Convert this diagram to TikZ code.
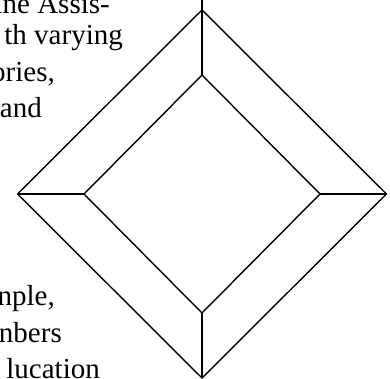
\documentclass[tikz,border=0pt]{standalone}
\usepackage{fontspec}
\setmainfont{Liberation Serif}
\begin{document}
\begin{tikzpicture}[x=1pt,y=-1pt,
  edge/.style={line width=1.4pt, line join=miter},
  spoke/.style={line width=1.1pt},
  txt/.style={anchor=base east, inner sep=0pt, font=\fontsize{29}{34}\selectfont}]
\useasboundingbox (0,0) rectangle (390,379);
% outer diamond
\coordinate (oT) at (202,10);
\coordinate (oR) at (386.5,194);
\coordinate (oB) at (202,378);
\coordinate (oL) at (17.5,194);
% inner diamond
\coordinate (iT) at (202,75);
\coordinate (iR) at (320,194);
\coordinate (iB) at (202,313);
\coordinate (iL) at (84,194);
\coordinate (top) at (202,-2);
\draw[edge] (oT) -- (oR) -- (oB) -- (oL) -- cycle;
\draw[edge] (iT) -- (iR) -- (iB) -- (iL) -- cycle;
\draw[spoke] (top) -- (iT);
\draw[spoke] (oR) -- (iR);
\draw[spoke] (oB) -- (iB);
\draw[spoke] (oL) -- (iL);
% text
\node[txt] (t1) at (110,14) {ine Assis-};
\node[txt] (t2) at (123,45) {th varying};
\node[txt] (t3) at (55,82) {ories,};
\node[txt] (t4) at (42,118) {and};
\node[txt] (t5) at (55,305) {nple,};
\node[txt] (t6) at (62,342) {nbers};
\node[txt] (t7) at (100,378) {lucation};
\end{tikzpicture}
\end{document}
